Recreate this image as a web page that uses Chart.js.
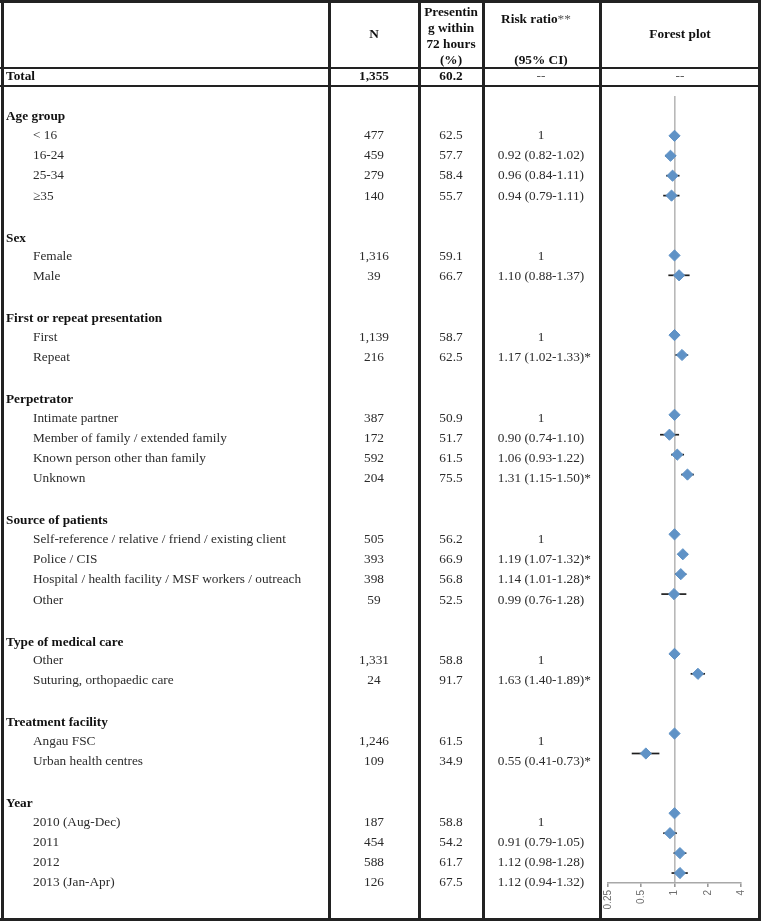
<!DOCTYPE html>
<html><head><meta charset="utf-8">
<script src="https://cdn.jsdelivr.net/npm/chart.js@4/dist/chart.umd.min.js"></script>
<style>
html,body{margin:0;padding:0;background:#fff;}
#wrap{position:relative;width:761px;height:923px;overflow:hidden;font-family:"Liberation Serif","Times New Roman",serif;font-size:13.3px;color:#2b2b2b;}
#c{position:absolute;left:0;top:0;}
.t{position:absolute;white-space:nowrap;line-height:16px;height:16px;}
.c{transform:translateX(-50%);}
.b{font-weight:bold;color:#111;}
.ln{position:absolute;background:#222;}
.star{position:absolute;left:100%;top:0;}
</style></head>
<body><div id="wrap"><canvas id="c" width="761" height="923"></canvas></div>
<script>
// ---------- DATA ----------
const rowLabels = [
  "Age group","< 16","16-24","25-34","\u226535","",
  "Sex","Female","Male","",
  "First or repeat presentation","First","Repeat","",
  "Perpetrator","Intimate partner","Member of family / extended family","Known person other than family","Unknown","",
  "Source of patients","Self-reference / relative / friend / existing client","Police / CIS","Hospital / health facility / MSF workers / outreach","Other","",
  "Type of medical care","Other","Suturing, orthopaedic care","",
  "Treatment facility","Angau FSC","Urban health centres","",
  "Year","2010 (Aug-Dec)","2011","2012","2013 (Jan-Apr)"
];
const nValues = [
  null,"477","459","279","140",null,
  null,"1,316","39",null,
  null,"1,139","216",null,
  null,"387","172","592","204",null,
  null,"505","393","398","59",null,
  null,"1,331","24",null,
  null,"1,246","109",null,
  null,"187","454","588","126"
];
const pctValues = [
  null,62.5,57.7,58.4,55.7,null,
  null,59.1,66.7,null,
  null,58.7,62.5,null,
  null,50.9,51.7,61.5,75.5,null,
  null,56.2,66.9,56.8,52.5,null,
  null,58.8,91.7,null,
  null,61.5,34.9,null,
  null,58.8,54.2,61.7,67.5
];
const riskRatio = [
  null,1,0.92,0.96,0.94,null,
  null,1,1.10,null,
  null,1,1.17,null,
  null,1,0.90,1.06,1.31,null,
  null,1,1.19,1.14,0.99,null,
  null,1,1.63,null,
  null,1,0.55,null,
  null,1,0.91,1.12,1.12
];
const ciLower = [
  null,null,0.82,0.84,0.79,null,
  null,null,0.88,null,
  null,null,1.02,null,
  null,null,0.74,0.93,1.15,null,
  null,null,1.07,1.01,0.76,null,
  null,null,1.40,null,
  null,null,0.41,null,
  null,null,0.79,0.98,0.94
];
const ciUpper = [
  null,null,1.02,1.11,1.11,null,
  null,null,1.37,null,
  null,null,1.33,null,
  null,null,1.10,1.22,1.50,null,
  null,null,1.32,1.28,1.28,null,
  null,null,1.89,null,
  null,null,0.73,null,
  null,null,1.05,1.28,1.32
];
const significant = [
  0,0,0,0,0,0, 0,0,0,0, 0,0,1,0, 0,0,0,0,1,0, 0,0,1,1,0,0, 0,0,1,0, 0,0,1,0, 0,0,0,0,0
];
const totalRow = {label:"Total", n:"1,355", pct:"60.2"};
const axisTicks = [0.25,0.5,1,2,4];

// ---------- TABLE (text + rules) ----------
const wrap = document.getElementById('wrap');
function txt(s, x, y, opts) {
  opts = opts || {};
  const d = document.createElement('div');
  d.className = 't' + (opts.center ? ' c' : '') + (opts.bold ? ' b' : '');
  d.style.left = x + 'px';
  d.style.top = (y - 8) + 'px';
  d.textContent = s;
  if (opts.star) {
    const st = document.createElement('span');
    st.className = 'star';
    st.textContent = '*';
    d.appendChild(st);
  }
  if (opts.color) d.style.color = opts.color;
  wrap.appendChild(d);
  return d;
}
function rule(x, y, w, h) {
  const d = document.createElement('div');
  d.className = 'ln';
  d.style.left = x + 'px'; d.style.top = y + 'px';
  d.style.width = w + 'px'; d.style.height = h + 'px';
  wrap.appendChild(d);
}
const colN = 374, colP = 451, colR = 541, colF = 680;
// header
txt("N", colN, 34, {center:true, bold:true});
["Presentin","g within","72 hours","(%)"].forEach((s,i)=>txt(s, colP, 12 + i*16, {center:true, bold:true}));
const rr = txt("Risk ratio", colR - 5, 19, {center:true, bold:true});
const ast = document.createElement('span'); ast.textContent = '**'; ast.style.fontWeight='normal'; ast.style.color='#555'; rr.appendChild(ast);
txt("(95% CI)", colR, 60, {center:true, bold:true});
txt("Forest plot", colF, 34, {center:true, bold:true});
// total
txt(totalRow.label, 6, 76, {bold:true});
txt(totalRow.n, colN, 76, {center:true, bold:true});
txt(totalRow.pct, colP, 76, {center:true, bold:true});
txt("--", colR, 76, {center:true, color:'#555'});
txt("--", colF, 76, {center:true, color:'#555'});
// body rows
const textTop = 135, textPitch = 20.2;
rowLabels.forEach((lab, i) => {
  if (!lab) return;
  const y = textTop + (i - 1) * textPitch;
  const isGroup = nValues[i] === null;
  if (isGroup) { txt(lab, 6, y + 1.5, {bold:true}); return; }
  txt(lab, 33, y);
  txt(nValues[i], colN, y, {center:true});
  txt(pctValues[i].toFixed(1), colP, y, {center:true});
  let s;
  if (ciLower[i] === null) s = String(riskRatio[i]);
  else s = riskRatio[i].toFixed(2) + ' (' + ciLower[i].toFixed(2) + '-' + ciUpper[i].toFixed(2) + ')';
  txt(s, colR, y, {center:true, star: !!significant[i]});
});
// rules
rule(0, 0, 761, 3);
rule(0, 918, 761, 3);
rule(1, 0, 3, 921);
rule(758, 0, 3, 921);
[328, 417.5, 482.3, 599].forEach(x => rule(x, 0, 3, 921));
rule(0, 66.5, 761, 2.5);
rule(0, 84.8, 761, 2.5);

// ---------- FOREST PLOT ----------
const rrPoints = [];
riskRatio.forEach((v, i) => { if (v !== null) rrPoints.push({x: v, y: i}); });
const ciSets = [];
ciLower.forEach((lo, i) => {
  if (lo === null) return;
  ciSets.push({
    data: [{x: lo, y: i}, {x: ciUpper[i], y: i}],
    showLine: true, pointRadius: 0, borderColor: '#1e1e1e', borderWidth: 1.7, order: 2
  });
});
new Chart(document.getElementById('c').getContext('2d'), {
  type: 'scatter',
  data: {datasets: [
    {data: rrPoints, pointStyle: 'rectRot', pointRadius: 5.6, borderWidth: 1,
     backgroundColor: '#5f92c6', borderColor: '#5f92c6', order: 0}
  ].concat(ciSets)},
  options: {
    responsive: false, animation: false, devicePixelRatio: 1,
    layout: {padding: {left: 608, right: 20, top: 96, bottom: 0}},
    plugins: {legend: {display: false}, tooltip: {enabled: false}},
    scales: {
      x: {
        type: 'logarithmic', min: 0.25, max: 4,
        afterBuildTicks: s => { s.ticks = axisTicks.map(v => ({value: v})); },
        afterFit: s => { s.height = 40; },
        ticks: {minRotation: 90, maxRotation: 90, autoSkip: false,
                callback: v => String(v),
                font: {family: 'Liberation Sans', size: 10}, color: '#6e6e6e', padding: 3},
        grid: {color: c => (c.tick && c.tick.value === 1) ? '#b8b8b8' : 'rgba(0,0,0,0)',
               lineWidth: 1.6, tickColor: '#999', tickLength: 4},
        border: {display: true, color: '#a8a8a8', width: 1.6}
      },
      y: {type: 'linear', min: -1, max: 38.5, reverse: true, display: false}
    }
  }
});
</script>
</body></html>
